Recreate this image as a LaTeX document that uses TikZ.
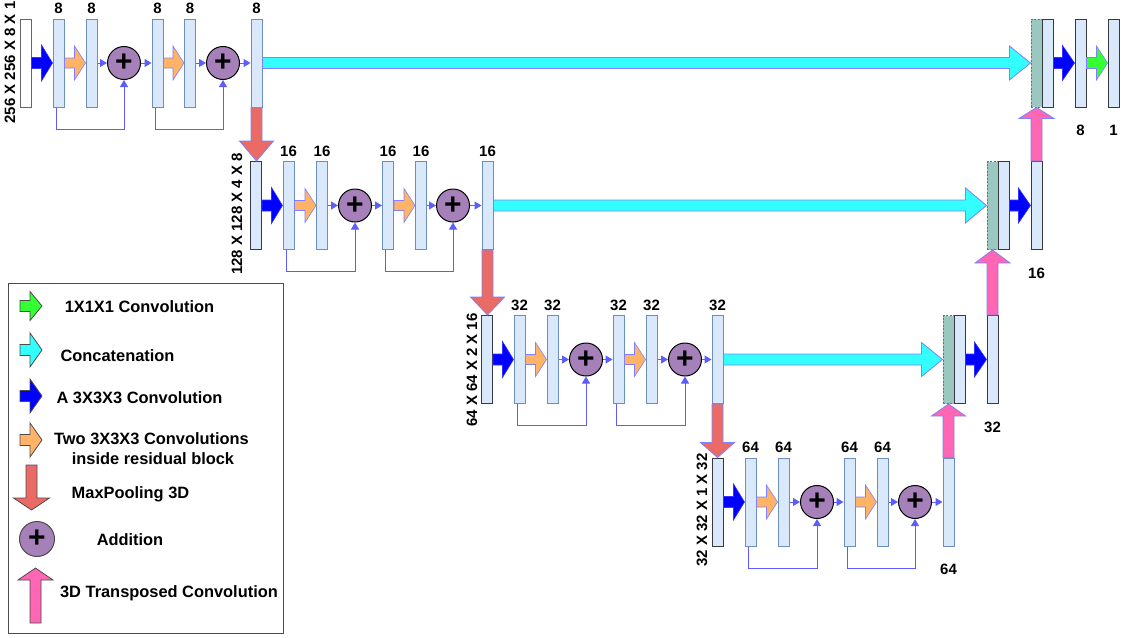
\documentclass[tikz,border=0pt]{standalone}
\usepackage{fontspec}
\setmainfont{Liberation Sans}
\usetikzlibrary{arrows.meta,calc}
\definecolor{boxfill}{HTML}{DAE8FC}
\definecolor{boxline}{HTML}{6C8EBF}
\definecolor{darkline}{HTML}{36393D}
\definecolor{catfill}{HTML}{9AC7BF}
\definecolor{catline}{HTML}{B85450}
\definecolor{addfill}{HTML}{A680B8}
\definecolor{connc}{HTML}{5C5CFF}
\definecolor{arrline}{HTML}{7F7FFF}
\definecolor{convblue}{HTML}{0000FF}
\definecolor{resorange}{HTML}{FFB366}
\definecolor{catcyan}{HTML}{33FFFF}
\definecolor{poolred}{HTML}{EA6B66}
\definecolor{uppink}{HTML}{FF66B3}
\definecolor{onegreen}{HTML}{33FF33}
\newcommand\harrow[6]{\draw[#1] let \p1=(#2), \p2=(#3) in (\x1,\y1+#5) -- (\x2-#4,\y1+#5) -- (\x2-#4,\y1+#6) -- (\x2,\y1) -- (\x2-#4,\y1-#6) -- (\x2-#4,\y1-#5) -- (\x1,\y1-#5) -- cycle;}
\newcommand\varrowdown[6]{\draw[#1] let \p1=(#2), \p2=(#3) in (\x1-#5,\y1) -- (\x1-#5,\y2+#4) -- (\x1-#6,\y2+#4) -- (\x1,\y2) -- (\x1+#6,\y2+#4) -- (\x1+#5,\y2+#4) -- (\x1+#5,\y1) -- cycle;}
\newcommand\varrowup[6]{\draw[#1] let \p1=(#2), \p2=(#3) in (\x1-#5,\y1) -- (\x1-#5,\y2-#4) -- (\x1-#6,\y2-#4) -- (\x1,\y2) -- (\x1+#6,\y2-#4) -- (\x1+#5,\y2-#4) -- (\x1+#5,\y1) -- cycle;}
\tikzset{
 fm/.style={draw=boxline, fill=boxfill, line width=1pt, minimum width=11pt, minimum height=88pt, inner sep=0pt},
 fmdark/.style={fm, draw=darkline},
 fmin/.style={fm, draw=black!60, fill=white},
 fmcat/.style={fm, draw=catline, fill=catfill, dash pattern=on 2pt off 1.5pt},
 addc/.style={circle, draw=black, line width=1pt, fill=addfill, minimum size=33pt, inner sep=0pt, font=\bfseries\fontsize{30}{30}\selectfont},
 conn/.style={draw=connc, line width=1pt, -{Triangle[length=7pt,width=8pt]}},
 skip/.style={draw=connc, line width=0.9pt, -{Triangle[length=7pt,width=8pt]}},
 ablue/.style={fill=convblue, draw=convblue!80, line width=0.6pt},
 aorange/.style={fill=resorange, draw=arrline, line width=0.6pt},
 acyan/.style={fill=catcyan, draw=arrline, line width=0.8pt},
 ared/.style={fill=poolred, draw=arrline, line width=0.8pt},
 apink/.style={fill=uppink, draw=arrline, line width=0.8pt},
 agreen/.style={fill=onegreen, draw=arrline, line width=0.6pt},
 lgarr/.style={draw=black!70, line width=0.8pt},
 num/.style={font=\bfseries\fontsize{15}{18}\selectfont, inner sep=0pt, anchor=base},
 dimlab/.style={font=\bfseries\fontsize{15}{18}\selectfont, inner sep=0pt, rotate=90},
 lgtxt/.style={font=\bfseries\fontsize{16.4}{20}\selectfont, inner sep=0pt, anchor=base},
}
\begin{document}
\begin{tikzpicture}[x=1pt,y=-1pt]
\useasboundingbox (0,0) rectangle (1132,637);
% ---------------- level 1
\node[fmin] (in1) at (25.5,63) {};
\node[fm] (b11) at (58.5,63) {};
\node[fm] (b12) at (91.5,63) {};
\node[addc] (c11) at (124,63) {+};
\node[fm] (b13) at (157.5,63) {};
\node[fm] (b14) at (190,63) {};
\node[addc] (c12) at (223,63) {+};
\node[fm] (b15) at (256.5,63) {};
\node[dimlab] (d1) at (10,62.5) {256 X 256 X 8 X 1};
\foreach \b in {b11,b12,b13,b14,b15} \node[num] at ([yshift=5pt]\b.north) {8};
% ---------------- level 2
\node[fmdark] (in2) at (256,205.5) {};
\node[fm] (b21) at (288.5,205.5) {};
\node[fm] (b22) at (322,205.5) {};
\node[addc] (c21) at (355,205.5) {+};
\node[fm] (b23) at (388,205.5) {};
\node[fm] (b24) at (421,205.5) {};
\node[addc] (c22) at (453,205.5) {+};
\node[fm] (b25) at (487.5,205.5) {};
\node[dimlab] (d2) at (237,214) {128 X 128 X 4 X 8};
\foreach \b in {b21,b22,b23,b24,b25} \node[num] at ([yshift=5pt]\b.north) {16};
% ---------------- level 3
\node[fmdark] (in3) at (487,359.5) {};
\node[fm] (b31) at (519.5,359.5) {};
\node[fm] (b32) at (552.5,359.5) {};
\node[addc] (c31) at (586,359.5) {+};
\node[fm] (b33) at (618.5,359.5) {};
\node[fm] (b34) at (651.5,359.5) {};
\node[addc] (c32) at (685,359.5) {+};
\node[fm] (b35) at (717.5,359.5) {};
\node[dimlab] (d3) at (472,370) {64 X 64 X 2 X 16};
\foreach \b in {b31,b32,b33,b34,b35} \node[num] at ([yshift=5pt]\b.north) {32};
% ---------------- level 4
\node[fmdark] (in4) at (717.5,502) {};
\node[fm] (b41) at (750.5,502) {};
\node[fm] (b42) at (783.5,502) {};
\node[addc] (c41) at (817,502) {+};
\node[fm] (b43) at (849.5,502) {};
\node[fm] (b44) at (882.5,502) {};
\node[addc] (c42) at (915,502) {+};
\node[fm] (b45) at (948.5,502) {};
\node[dimlab] (d4) at (702,510) {32 X 32 X 1 X 32};
\foreach \b in {b41,b42,b43,b44} \node[num] at ([yshift=5pt]\b.north) {64};
\node[num] at ([yshift=-28pt]b45.south) {64};
% ---------------- decoder
\node[fmcat] (cc1) at (1036.5,63) {};
\node[fmdark] (r1a) at (1047.5,63) {};
\node[fmdark] (r1b) at (1080.5,63) {};
\node[fmdark] (r1c) at (1113.5,63) {};
\node[num] at ([yshift=-28pt]r1b.south) {8};
\node[num] at ([yshift=-28pt]r1c.south) {1};
\node[fmcat] (cc2) at (992.5,205.5) {};
\node[fmdark] (r2a) at (1003.5,205.5) {};
\node[fmdark] (r2b) at (1036.5,205.5) {};
\node[num] at ([yshift=-28pt]r2b.south) {16};
\node[fmcat] (cc3) at (948.5,359.5) {};
\node[fmdark] (r3a) at (959.5,359.5) {};
\node[fmdark] (r3b) at (992.5,359.5) {};
\node[num] at ([yshift=-28pt]r3b.south) {32};
% ---------------- residual stages: arrows
\foreach \l in {1,2,3,4}{
  \harrow{ablue}{in\l.east}{b\l1.west}{11pt}{5.5pt}{18pt}
  \harrow{aorange}{b\l1.east}{b\l2.west}{11pt}{5pt}{17pt}
  \harrow{aorange}{b\l3.east}{b\l4.west}{11pt}{5pt}{17pt}
  \draw[conn] (b\l2.east) -- (c\l1.west);
  \draw[conn] (c\l1.east) -- (b\l3.west);
  \draw[conn] (b\l4.east) -- (c\l2.west);
  \draw[conn] (c\l2.east) -- (b\l5.west);
  \draw[skip] ([xshift=-2.5pt]b\l1.south) -- ++(0,21.5) -| (c\l1.south);
  \draw[skip] ([xshift=-2.5pt]b\l3.south) -- ++(0,21.5) -| (c\l2.south);
}
% max pooling
\varrowdown{ared}{b15.south}{in2.north}{20pt}{5.5pt}{17pt}
\varrowdown{ared}{b25.south}{in3.north}{18pt}{5.5pt}{17pt}
\varrowdown{ared}{b35.south}{in4.north}{15pt}{5.5pt}{17pt}
% concatenation
\harrow{acyan}{b15.east}{cc1.west}{21pt}{5.5pt}{17pt}
\harrow{acyan}{b25.east}{cc2.west}{21pt}{5.5pt}{17.5pt}
\harrow{acyan}{b35.east}{cc3.west}{21pt}{5.5pt}{17pt}
% transposed convolutions
\varrowup{apink}{b45.north}{cc3.south}{12pt}{5.5pt}{17pt}
\varrowup{apink}{r3b.north}{cc2.south}{13pt}{5.5pt}{17.5pt}
\varrowup{apink}{r2b.north}{cc1.south}{11pt}{5.5pt}{17.5pt}
% decoder convolutions
\harrow{ablue}{r1a.east}{r1b.west}{12pt}{5.5pt}{17.5pt}
\harrow{agreen}{r1b.east}{r1c.west}{11pt}{5.5pt}{17pt}
\harrow{ablue}{r2a.east}{r2b.west}{12pt}{5.5pt}{17.5pt}
\harrow{ablue}{r3a.east}{r3b.west}{12pt}{5.5pt}{17.5pt}
% ---------------- legend
\draw[black!70, line width=1pt] (8,283) rectangle (283,633);
\coordinate (g1a) at (20,306); \coordinate (g1b) at (42,306);
\coordinate (g2a) at (20,350); \coordinate (g2b) at (42,350);
\coordinate (g3a) at (20,396); \coordinate (g3b) at (42,396);
\coordinate (g4a) at (20,440); \coordinate (g4b) at (42,440);
\coordinate (g5a) at (31.5,465); \coordinate (g5b) at (31.5,510);
\coordinate (g7a) at (35.5,623); \coordinate (g7b) at (35.5,568);
\harrow{lgarr, fill=onegreen}{g1a}{g1b}{12pt}{5.5pt}{14.5pt}
\harrow{lgarr, fill=catcyan}{g2a}{g2b}{12pt}{5.5pt}{17pt}
\harrow{lgarr, fill=convblue}{g3a}{g3b}{12pt}{5.5pt}{17pt}
\harrow{lgarr, fill=resorange}{g4a}{g4b}{12pt}{5.5pt}{17pt}
\varrowdown{lgarr, fill=poolred}{g5a}{g5b}{12pt}{5.5pt}{18pt}
\node[addc, draw=black!70, minimum size=35pt] (g6) at (37,539) {+};
\varrowup{lgarr, fill=uppink}{g7a}{g7b}{12pt}{5.5pt}{17.5pt}
\node[lgtxt] (t1) at (139.5,312) {1X1X1 Convolution};
\node[lgtxt] (t2) at (117.5,361) {Concatenation};
\node[lgtxt] (t3) at (139.5,403) {A 3X3X3 Convolution};
\node[lgtxt] (t4a) at (151.5,444) {Two 3X3X3 Convolutions};
\node[lgtxt] (t4b) at (153,464) {inside residual block};
\node[lgtxt] (t5) at (130.5,498) {MaxPooling 3D};
\node[lgtxt] (t6) at (130,545) {Addition};
\node[lgtxt] (t7) at (169,597) {3D Transposed Convolution};
\end{tikzpicture}
\end{document}
